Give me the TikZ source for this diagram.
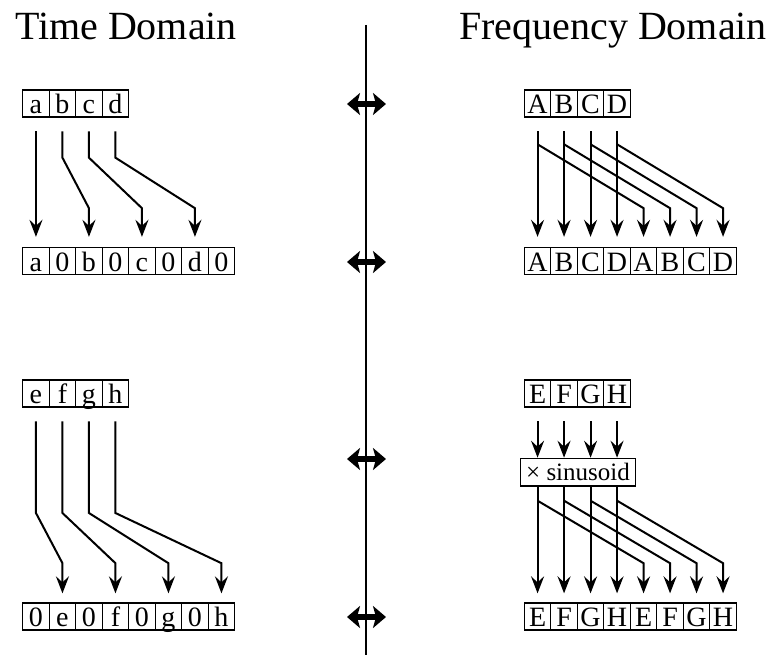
\documentclass[tikz,border=0pt]{standalone}
\usepackage{fontspec}
\setmainfont{Liberation Serif}
\usepackage{tikz}
\usetikzlibrary{arrows.meta}

\tikzset{
    cell/.style={draw, line width=1.3pt, minimum width=26.5pt, minimum height=27pt,
        inner sep=0pt, text height=20pt, text depth=0pt, font=\fontsize{28}{30}\selectfont},
    conn/.style={line width=2pt, -{Stealth[length=17pt,width=13pt,inset=6pt]}},
    dbl/.style={line width=6pt, {Stealth[length=13pt,width=22pt,inset=3pt]}-{Stealth[length=13pt,width=22pt,inset=3pt]}},
    title/.style={font=\fontsize{40}{48}\selectfont, anchor=base}
}

\begin{document}
\begin{tikzpicture}[x=1pt,y=-1pt]
        \useasboundingbox (0,0) rectangle (775,655);
        % Ширина ячейки и левые края
        \def\cellw{26.5}
        \def\lx{22.7}
        \def\rx{524.3}

        % Заголовки
        \node[title] (ttime) at (126,40) {Time Domain};
        \node[title] (tfreq) at (613,40) {Frequency Domain};

        % Разделительная линия
        \draw[line width=2pt] (365.7,25) -- (365.7,655);
        \foreach \y in {104,262,459,617}
            \draw[dbl] (347,\y) -- (386,\y);

        % Ячейки, время
        \foreach \x/\t in {1/a, 2/b, 3/c, 4/d}
            \node[cell] (ta\x) at ({\lx+\cellw*(\x-0.5)},103.5) {\t};
        \foreach \x/\t in {1/a, 2/0, 3/b, 4/0, 5/c, 6/0, 7/d, 8/0}
            \node[cell] (tb\x) at ({\lx+\cellw*(\x-0.5)},261) {\t};
        \foreach \x/\t in {1/e, 2/f, 3/g, 4/h}
            \node[cell] (tc\x) at ({\lx+\cellw*(\x-0.5)},393.5) {\t};
        \foreach \x/\t in {1/0, 2/e, 3/0, 4/f, 5/0, 6/g, 7/0, 8/h}
            \node[cell] (td\x) at ({\lx+\cellw*(\x-0.5)},616.5) {\t};

        % Ячейки, частота
        \foreach \x/\t in {1/A, 2/B, 3/C, 4/D}
            \node[cell] (fa\x) at ({\rx+\cellw*(\x-0.5)},103.5) {\t};
        \foreach \x/\t in {1/A, 2/B, 3/C, 4/D, 5/A, 6/B, 7/C, 8/D}
            \node[cell] (fb\x) at ({\rx+\cellw*(\x-0.5)},261) {\t};
        \foreach \x/\t in {1/E, 2/F, 3/G, 4/H}
            \node[cell] (fc\x) at ({\rx+\cellw*(\x-0.5)},393.5) {\t};
        \foreach \x/\t in {1/E, 2/F, 3/G, 4/H, 5/E, 6/F, 7/G, 8/H}
            \node[cell] (fd\x) at ({\rx+\cellw*(\x-0.5)},616.5) {\t};
        \node[draw, line width=1.3pt, minimum width=114.6pt, minimum height=27.7pt, inner sep=0pt,
            font=\fontsize{25}{27}\selectfont] (mult) at (578,472.2) {× sinusoid};

        % Уровни изломов
        \coordinate (ka) at (0,157.7);
        \coordinate (kb) at (0,208.2);
        \coordinate (kc) at (0,513);
        \coordinate (kd) at (0,563.2);
        \coordinate (ke) at (0,144.3);
        \coordinate (kg) at (0,500.7);

        % Стрелки, время
        \foreach \i/\j in {1/1, 2/3, 3/5, 4/7}
            \draw[conn, shorten <=13.7pt, shorten >=10pt] (ta\i.south) -- (ta\i |- ka) -- (tb\j |- kb) -- (tb\j.north);
        \foreach \i/\j in {1/2, 2/4, 3/6, 4/8}
            \draw[conn, shorten <=13.7pt, shorten >=9pt] (tc\i.south) -- (tc\i |- kc) -- (td\j |- kd) -- (td\j.north);

        % Стрелки, частота
        \foreach \i in {1,...,4}
        {
            \pgfmathtruncatemacro{\j}{\i+4}
            \draw[conn, shorten <=13.7pt, shorten >=10pt] (fa\i.south) -- (fb\i.north);
            \draw[conn, shorten >=10pt] (fa\i |- ke) -- (fb\j |- kb) -- (fb\j.north);

            \draw[conn, shorten <=13.7pt] (fc\i.south) -- (fc\i |- mult.north);
            \draw[conn, shorten >=9pt] (fc\i |- mult.south) -- (fd\i.north);
            \draw[conn, shorten >=9pt] (fc\i |- kg) -- (fd\j |- kd) -- (fd\j.north);
        }
\end{tikzpicture}
\end{document}
